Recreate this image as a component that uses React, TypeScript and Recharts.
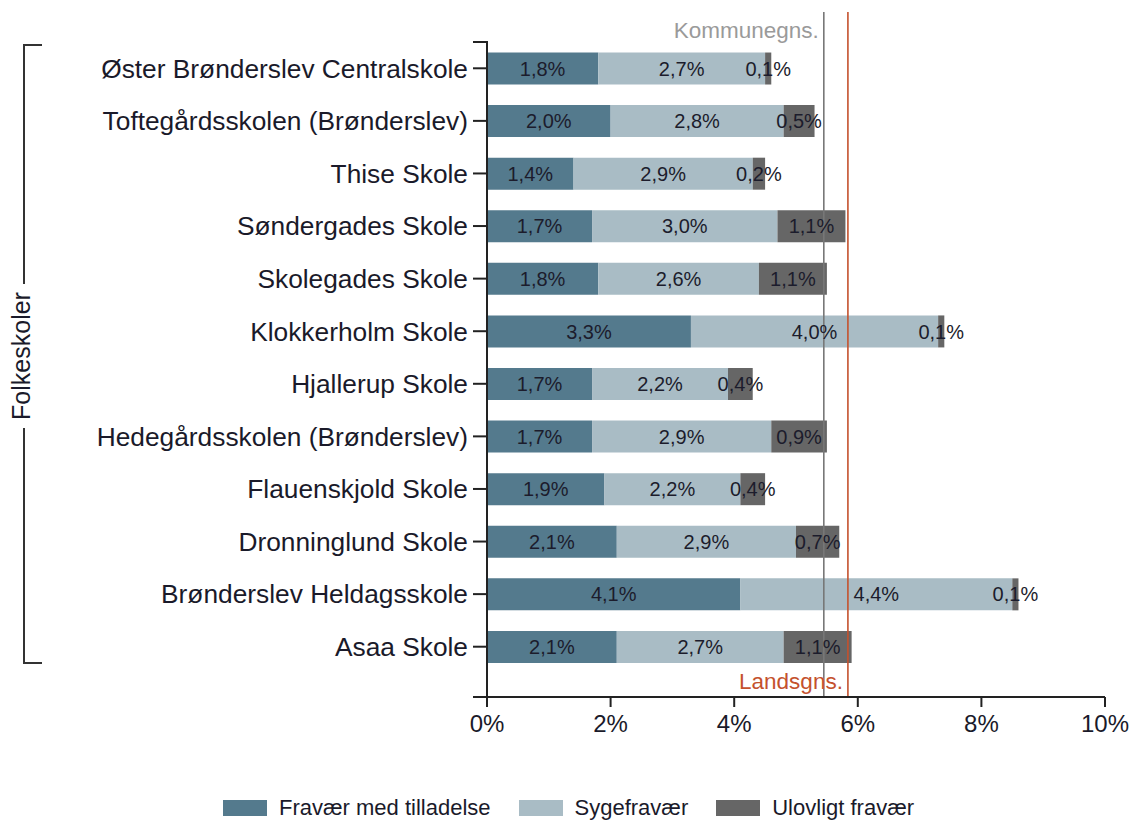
import React from 'react';
import { BarChart, Bar, XAxis, YAxis, ReferenceLine, LabelList } from 'recharts';

const schools = [
  'Øster Brønderslev Centralskole',
  'Toftegårdsskolen (Brønderslev)',
  'Thise Skole',
  'Søndergades Skole',
  'Skolegades Skole',
  'Klokkerholm Skole',
  'Hjallerup Skole',
  'Hedegårdsskolen (Brønderslev)',
  'Flauenskjold Skole',
  'Dronninglund Skole',
  'Brønderslev Heldagsskole',
  'Asaa Skole',
];
const withPermission = [1.8, 2.0, 1.4, 1.7, 1.8, 3.3, 1.7, 1.7, 1.9, 2.1, 4.1, 2.1];
const sickness = [2.7, 2.8, 2.9, 3.0, 2.6, 4.0, 2.2, 2.9, 2.2, 2.9, 4.4, 2.7];
const illegal = [0.1, 0.5, 0.2, 1.1, 1.1, 0.1, 0.4, 0.9, 0.4, 0.7, 0.1, 1.1];
const xTicks = [0, 2, 4, 6, 8, 10];
const kommuneAvg = 5.45;
const landsAvg = 5.84;
const seriesNames = ['Fravær med tilladelse', 'Sygefravær', 'Ulovligt fravær'];
const seriesColors = ['#547a8d', '#a9bcc5', '#666666'];

const data = schools.map((s, i) => ({
  school: s,
  a: withPermission[i],
  b: sickness[i],
  c: illegal[i],
}));

const FONT = '"Liberation Sans", Arial, sans-serif';
const fmt = (v: any) => `${Number(v).toFixed(1).replace('.', ',')}%`;

const labelStyle = { fontSize: 20, fill: '#1c1c2c', fontFamily: FONT };

const RefShape = (color: string, text: string, where: 'top' | 'bottom', textColor: string) => (props: any) => {
  const { x1, y1, x2, y2 } = props;
  const top = Math.min(y1, y2);
  const bottom = Math.max(y1, y2);
  return (
    <g>
      <line x1={x1} x2={x2} y1={top - 30} y2={bottom} stroke={color} strokeWidth={1.6} />
      <text
        x={x1 - 5}
        y={where === 'top' ? top - 4 : bottom - 8}
        textAnchor="end"
        fontSize={22.5}
        fontFamily={FONT}
        fill={textColor}
      >
        {text}
      </text>
    </g>
  );
};

export default function App() {
  return (
    <div style={{ position: 'absolute', left: 0, top: 0, width: 1133, height: 821, background: '#fff' }}>
      <BarChart
        width={1133}
        height={821}
        data={data}
        layout="vertical"
        margin={{ top: 42, right: 28, bottom: 84, left: 0 }}
        barCategoryGap="20%"
      >
        <XAxis
          type="number"
          domain={[0, 10]}
          ticks={xTicks}
          tickFormatter={(v: number) => `${v}%`}
          tickSize={10}
          tickMargin={8}
          height={40}
          stroke="#222"
          axisLine={{ stroke: '#222', strokeWidth: 2 }}
          tickLine={{ stroke: '#222', strokeWidth: 2 }}
          tick={{ fontSize: 24, fill: '#1a1a2a', fontFamily: FONT }}
          allowDataOverflow
        />
        <YAxis
          type="category"
          dataKey="school"
          width={487}
          interval={0}
          tickSize={14}
          tickMargin={5}
          padding={{ top: 0, bottom: 24 }}
          axisLine={{ stroke: '#222', strokeWidth: 2 }}
          tickLine={{ stroke: '#222', strokeWidth: 2 }}
          tick={{ fontSize: 26.3, fill: '#1a1a2a', fontFamily: FONT }}
        />
        <ReferenceLine
          x={kommuneAvg}
          ifOverflow="visible"
          shape={RefShape('#777777', 'Kommunegns.', 'top', '#9a9a9a')}
        />
        <ReferenceLine
          x={landsAvg}
          ifOverflow="visible"
          shape={RefShape('#c4512d', 'Landsgns.', 'bottom', '#c4512d')}
        />
        <Bar dataKey="a" stackId="s" fill={seriesColors[0]} isAnimationActive={false}>
          <LabelList dataKey="a" position="center" formatter={fmt} style={labelStyle} />
        </Bar>
        <Bar dataKey="b" stackId="s" fill={seriesColors[1]} isAnimationActive={false}>
          <LabelList dataKey="b" position="center" formatter={fmt} style={labelStyle} />
        </Bar>
        <Bar dataKey="c" stackId="s" fill={seriesColors[2]} isAnimationActive={false}>
          <LabelList dataKey="c" position="center" formatter={fmt} style={labelStyle} />
        </Bar>
      </BarChart>

      <svg
        width={1133}
        height={821}
        style={{ position: 'absolute', left: 0, top: 0, pointerEvents: 'none' }}
      >
        <line x1={473} x2={488} y1={42} y2={42} stroke="#222" strokeWidth={2} />
        <line x1={473} x2={488} y1={697} y2={697} stroke="#222" strokeWidth={2} />
        <path d="M42 45 H24 V663 H42" fill="none" stroke="#333" strokeWidth={2} />
        <rect x={10} y={284} width={30} height={144} fill="#fff" />
        <text
          x={0}
          y={0}
          transform="translate(30 356) rotate(-90)"
          textAnchor="middle"
          fontSize={25}
          fontFamily={FONT}
          fill="#1a1a2a"
        >
          Folkeskoler
        </text>
      </svg>

      <div
        style={{
          position: 'absolute',
          top: 796,
          left: 223,
          height: 24,
          display: 'flex',
          alignItems: 'center',
          fontFamily: FONT,
          fontSize: 22,
          color: '#1a1a2a',
          whiteSpace: 'nowrap',
        }}
      >
        {seriesNames.map((n, i) => (
          <div key={n} style={{ display: 'flex', alignItems: 'center', marginRight: 28 }}>
            <div style={{ width: 44, height: 16, background: seriesColors[i], marginRight: 12 }} />
            <span>{n}</span>
          </div>
        ))}
      </div>
    </div>
  );
}
